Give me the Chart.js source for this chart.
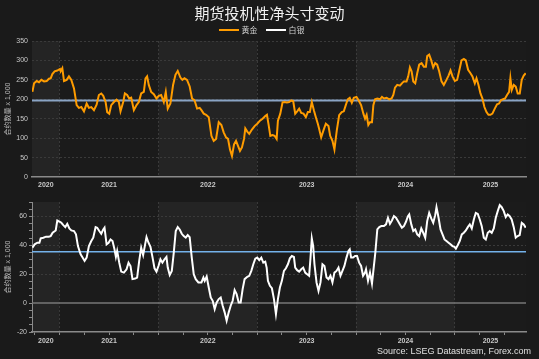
<!DOCTYPE html>
<html>
<head>
<meta charset="utf-8">
<script src="https://cdn.jsdelivr.net/npm/chart.js@4.4.1/dist/chart.umd.min.js"></script>
<style>
    body {
        margin: 0;
        background: #1a1a1a;
        width: 539px;
        height: 359px;
        overflow: hidden;
        position: relative;
        font-family: 'Liberation Sans', 'Noto Sans CJK SC', sans-serif;
    }
    .box { position: absolute; left: 0; width: 539px; }
    #title {
        position: absolute; top: 2px; left: 0; width: 539px; text-align: center;
        color: #f0f0f0; font-size: 15px; font-family: 'Noto Sans CJK SC', sans-serif;
        z-index: 2;
    }
    #legend {
        position: absolute; top: 24px; left: 0; width: 523px; text-align: center;
        color: #cfcfcf; font-size: 8px; font-family: 'Noto Sans CJK SC', sans-serif;
        z-index: 2;
    }
    #legend span.item { display: inline-block; margin: 0 4px; }
    #legend span.swatch {
        display: inline-block; width: 20px; height: 2px; vertical-align: middle;
        margin-right: 3px; position: relative; top: -1px;
    }
    #source {
        position: absolute; right: 8px; top: 346px; color: #e0e0e0; font-size: 9px;
        z-index: 2;
    }
</style>
</head>
<body>
<div id="title">期货投机性净头寸变动</div>
<div id="legend"></div>
<div class="box" style="top:0;height:192px"><canvas id="goldChart"></canvas></div>
<div class="box" style="top:192px;height:167px"><canvas id="silverChart"></canvas></div>
<div id="source">Source: LSEG Datastream, Forex.com</div>

<script>
// weekly net speculative positions, contracts x 1,000 (x = decimal year)
const goldT = [2020.724,2020.741,2020.768,2020.791,2020.815,2020.842,2020.869,2020.892,2020.909,2020.926,2020.949,2020.976,2021.003,2021.010,2021.027,2021.044,2021.071,2021.094,2021.118,2021.145,2021.172,2021.195,2021.219,2021.246,2021.273,2021.296,2021.320,2021.347,2021.374,2021.397,2021.421,2021.441,2021.465,2021.481,2021.502,2021.522,2021.549,2021.576,2021.599,2021.616,2021.643,2021.660,2021.683,2021.704,2021.724,2021.751,2021.778,2021.801,2021.825,2021.852,2021.869,2021.885,2021.902,2021.926,2021.953,2021.980,2022.003,2022.027,2022.054,2022.074,2022.094,2022.121,2022.148,2022.172,2022.195,2022.222,2022.242,2022.263,2022.289,2022.316,2022.340,2022.364,2022.391,2022.417,2022.435,2022.458,2022.482,2022.509,2022.536,2022.559,2022.583,2022.610,2022.637,2022.660,2022.684,2022.704,2022.724,2022.744,2022.765,2022.785,2022.805,2022.825,2022.845,2022.866,2022.879,2022.899,2022.919,2022.946,2022.973,2023.000,2023.027,2023.054,2023.081,2023.098,2023.115,2023.132,2023.155,2023.175,2023.196,2023.209,2023.233,2023.256,2023.276,2023.300,2023.323,2023.344,2023.364,2023.384,2023.404,2023.424,2023.445,2023.468,2023.492,2023.512,2023.532,2023.552,2023.573,2023.593,2023.613,2023.626,2023.647,2023.670,2023.694,2023.721,2023.738,2023.761,2023.781,2023.805,2023.829,2023.855,2023.876,2023.896,2023.916,2023.936,2023.957,2023.977,2024.004,2024.024,2024.051,2024.074,2024.091,2024.107,2024.124,2024.141,2024.161,2024.175,2024.192,2024.215,2024.242,2024.262,2024.282,2024.309,2024.336,2024.360,2024.377,2024.394,2024.417,2024.444,2024.464,2024.484,2024.511,2024.528,2024.545,2024.562,2024.579,2024.599,2024.619,2024.639,2024.663,2024.686,2024.707,2024.720,2024.740,2024.761,2024.781,2024.801,2024.821,2024.841,2024.865,2024.888,2024.915,2024.936,2024.956,2024.976,2025.000,2025.023,2025.043,2025.067,2025.091,2025.111,2025.134,2025.158,2025.178,2025.202,2025.219,2025.239,2025.259,2025.279,2025.299,2025.320,2025.340,2025.360,2025.380,2025.404,2025.427,2025.447,2025.468,2025.488,2025.508,2025.528,2025.549,2025.562,2025.576,2025.596,2025.616,2025.636,2025.657,2025.677,2025.697,2025.717];
const gold = [219,241,247,244,250,246,247,253,254,265,272,274,278,272,280,247,250,259,250,228,185,178,180,169,189,178,180,172,186,211,215,209,193,167,163,185,193,199,193,169,193,215,211,202,204,172,185,193,215,219,254,259,237,219,213,202,209,211,193,219,176,189,237,263,273,256,250,254,250,233,202,198,176,178,172,163,160,154,106,93,98,141,134,115,102,98,71,54,84,93,80,67,76,98,125,117,111,122,131,137,145,150,157,160,134,106,108,106,98,145,163,192,193,192,193,197,195,163,169,176,165,163,154,167,167,193,172,154,137,124,102,120,137,131,106,93,71,120,159,167,169,185,200,204,191,204,206,198,185,163,150,160,134,141,141,185,200,202,200,206,202,204,200,202,211,230,237,235,241,246,246,259,282,272,246,241,267,289,293,284,284,311,315,300,282,293,289,272,246,237,250,261,274,259,247,250,272,300,304,300,276,267,259,241,254,237,215,202,180,167,160,160,163,176,187,189,198,200,202,211,219,254,224,237,233,215,215,250,261,267];

const silverT = [2020.724,2020.747,2020.774,2020.795,2020.808,2020.835,2020.862,2020.889,2020.909,2020.929,2020.960,2020.976,2021.003,2021.017,2021.037,2021.057,2021.077,2021.098,2021.118,2021.145,2021.165,2021.185,2021.212,2021.232,2021.252,2021.273,2021.296,2021.320,2021.340,2021.364,2021.380,2021.401,2021.421,2021.441,2021.454,2021.475,2021.495,2021.515,2021.535,2021.555,2021.569,2021.582,2021.603,2021.623,2021.650,2021.677,2021.697,2021.717,2021.737,2021.764,2021.784,2021.805,2021.825,2021.845,2021.865,2021.879,2021.899,2021.919,2021.939,2021.960,2021.980,2022.000,2022.020,2022.040,2022.061,2022.081,2022.094,2022.114,2022.135,2022.155,2022.175,2022.195,2022.215,2022.236,2022.256,2022.276,2022.296,2022.316,2022.337,2022.357,2022.377,2022.404,2022.424,2022.435,2022.455,2022.468,2022.488,2022.509,2022.529,2022.549,2022.569,2022.589,2022.610,2022.630,2022.650,2022.670,2022.690,2022.711,2022.731,2022.751,2022.771,2022.791,2022.812,2022.832,2022.852,2022.872,2022.899,2022.919,2022.940,2022.960,2022.980,2023.000,2023.020,2023.041,2023.061,2023.081,2023.095,2023.108,2023.128,2023.148,2023.169,2023.189,2023.209,2023.229,2023.249,2023.270,2023.290,2023.310,2023.330,2023.350,2023.371,2023.384,2023.404,2023.424,2023.445,2023.465,2023.485,2023.505,2023.525,2023.539,2023.552,2023.566,2023.579,2023.600,2023.620,2023.640,2023.660,2023.680,2023.701,2023.721,2023.741,2023.761,2023.781,2023.802,2023.822,2023.842,2023.862,2023.882,2023.903,2023.923,2023.936,2023.950,2023.970,2023.990,2024.010,2024.031,2024.051,2024.071,2024.091,2024.101,2024.121,2024.141,2024.161,2024.175,2024.195,2024.215,2024.235,2024.256,2024.282,2024.303,2024.323,2024.343,2024.363,2024.383,2024.404,2024.424,2024.444,2024.464,2024.484,2024.505,2024.525,2024.538,2024.559,2024.579,2024.599,2024.619,2024.639,2024.660,2024.680,2024.700,2024.720,2024.740,2024.761,2024.781,2024.801,2024.814,2024.835,2024.855,2024.875,2024.895,2024.915,2024.936,2024.956,2024.976,2024.996,2025.010,2025.030,2025.050,2025.070,2025.091,2025.111,2025.131,2025.151,2025.171,2025.192,2025.212,2025.232,2025.252,2025.272,2025.293,2025.313,2025.333,2025.353,2025.373,2025.394,2025.414,2025.434,2025.454,2025.474,2025.495,2025.515,2025.535,2025.555,2025.575,2025.596,2025.616,2025.636,2025.656,2025.677,2025.697,2025.717];
const silver = [38.4,40.7,41.8,41.8,44.8,45.3,46.0,46.0,46.4,48.7,50.3,57.2,56.3,55.6,54.0,52.6,54.9,51.7,50.3,49.9,47.6,39.5,33.8,31.5,29.2,31.5,39.5,43.0,45.3,52.6,52.2,49.9,48.0,51.0,52.2,40.7,41.8,44.1,43.0,37.2,32.0,36.1,28.0,21.8,21.1,23.4,28.0,25.7,16.6,17.0,17.7,29.2,38.4,33.3,40.7,45.7,41.8,38.9,32.0,24.1,21.8,25.7,30.3,28.0,30.3,32.0,24.6,19.5,22.3,34.9,49.9,52.6,51.0,48.0,46.4,45.3,47.1,45.7,31.5,20.0,16.6,14.3,14.3,14.3,17.7,15.4,18.4,10.8,3.9,1.6,-4.1,0.5,2.8,3.9,-1.8,-6.4,-12.2,-6.4,-1.8,1.6,9.0,6.2,0.5,0.5,9.7,16.6,18.2,18.9,22.3,26.9,30.8,31.5,29.7,31.5,28.0,28.7,24.6,15.4,12.0,10.3,2.8,-7.6,2.8,10.8,15.4,22.3,24.1,26.9,31.0,32.6,32.0,24.6,22.8,21.8,23.4,24.6,21.1,20.0,18.9,31.5,44.8,39.5,26.9,14.3,8.5,14.3,26.9,25.7,17.7,16.6,18.9,14.3,21.1,22.3,24.6,18.9,22.3,25.7,31.5,36.1,37.2,31.5,31.5,32.6,32.6,28.0,25.7,18.9,21.1,23.4,15.4,21.1,13.6,22.3,34.9,51.0,52.6,53.3,53.3,54.5,59.1,54.9,57.2,60.2,59.1,56.8,54.5,52.2,53.3,56.3,60.2,61.4,54.5,49.9,51.0,47.6,46.4,51.7,48.7,45.3,56.8,62.5,58.6,55.6,60.9,66.4,59.1,51.0,47.6,44.1,43.0,41.8,40.7,39.5,38.9,37.7,40.2,43.0,47.6,48.7,50.3,52.6,54.5,51.7,57.9,62.5,61.8,57.9,53.3,45.3,44.1,48.7,49.9,48.7,51.7,59.1,63.7,67.8,66.4,63.7,59.5,61.4,60.2,57.9,52.6,45.3,46.4,47.1,55.6,54.5,52.2];

// reference levels (blue lines)
const goldRef = 197;
const silverRef = 35.5;

// x axis
const xMin = 2020.72;
const xMax = 2025.72;
const yearTicks = [2020.86, 2021.5, 2022.5, 2023.5, 2024.5, 2025.36];
const yearLabels = ['2020', '2021', '2022', '2023', '2024', '2025'];
const yearLines = [2021, 2022, 2023, 2024, 2025];

const seriesNames = ['黄金', '白银'];
const seriesColors = ['#ff9c00', '#ffffff'];

const gridColor = '#3a3a3a';
const labelColor = '#c8c8c8';

Chart.defaults.font.family = "'Liberation Sans', 'Noto Sans CJK SC', sans-serif";
Chart.defaults.font.size = 7;
Chart.defaults.color = labelColor;

// legend
const legend = document.getElementById('legend');
seriesNames.forEach((name, i) => {
    legend.innerHTML += `<span class="item"><span class="swatch" style="background:${seriesColors[i]}"></span>${name}</span>`;
});

// alternating shaded year bands behind the plot
const bandPlugin = {
    id: 'bands',
    beforeDraw(chart) {
        const { ctx, chartArea, scales } = chart;
        const edges = [xMin, ...yearLines, xMax];
        ctx.save();
        for (let i = 0; i < edges.length - 1; i++) {
            const x1 = scales.x.getPixelForValue(edges[i]);
            const x2 = scales.x.getPixelForValue(edges[i + 1]);
            ctx.fillStyle = i % 2 === 0 ? '#242424' : '#1b1b1b';
            ctx.fillRect(x1, chartArea.top, x2 - x1, chartArea.bottom - chartArea.top);
        }
        ctx.restore();
    }
};

function toPoints(t, v) {
    return t.map((x, i) => ({ x: x, y: v[i] }));
}

function flatLine(y) {
    return [{ x: xMin, y: y }, { x: xMax, y: y }];
}

function isNear(v, list) {
    return list.some(t => Math.abs(t - v) < 1e-6);
}

function xScale(withTicks) {
    return {
        type: 'linear',
        min: xMin,
        max: xMax,
        afterBuildTicks(scale) {
            let vals = yearLines.concat(yearTicks);
            if (withTicks) {
                for (let q = 2020.75; q <= 2025.5 + 1e-6; q += 0.25) vals.push(Math.round(q * 100) / 100);
            }
            vals = Array.from(new Set(vals)).sort((a, b) => a - b);
            scale.ticks = vals.map(v => ({ value: v }));
        },
        afterFit(scale) { scale.height = 15; },
        ticks: {
            autoSkip: false,
            maxRotation: 0,
            padding: withTicks ? 2 : 4,
            color: labelColor,
            font: { size: 7, weight: 'bold' },
            callback(v) {
                const i = yearTicks.findIndex(t => Math.abs(t - v) < 1e-6);
                return i >= 0 ? yearLabels[i] : '';
            }
        },
        grid: {
            drawTicks: withTicks,
            tickLength: 3,
            color: ctx => isNear(ctx.tick.value, yearLines) ? gridColor : 'transparent',
            tickColor: ctx => isNear(ctx.tick.value, [2020.86, 2025.36]) ? 'transparent' : '#8a8a8a'
        },
        border: { display: true, color: '#8a8a8a', width: 1.5, dash: [2, 2] }
    };
}

function yTitle() {
    return { display: true, text: '合约数量 x 1,000', color: '#bbbbbb', font: { size: 7 }, padding: { top: 4, bottom: 0 } };
}

// top panel: gold
new Chart(document.getElementById('goldChart'), {
    type: 'line',
    data: {
        datasets: [
            { data: toPoints(goldT, gold), borderColor: seriesColors[0], borderWidth: 2, pointRadius: 0, order: 1 },
            { data: flatLine(goldRef), borderColor: '#8aa4c4', borderWidth: 2, pointRadius: 0, order: 2 }
        ]
    },
    options: {
        responsive: true,
        maintainAspectRatio: false,
        animation: false,
        layout: { padding: { top: 41, right: 13, left: 0, bottom: 0 } },
        plugins: { legend: { display: false }, tooltip: { enabled: false } },
        scales: {
            x: xScale(false),
            y: {
                min: 0,
                max: 350,
                afterFit(scale) { scale.width = 32; },
                ticks: { stepSize: 50, padding: 4, color: labelColor },
                grid: {
                    drawTicks: false,
                    color: ctx => ctx.tick.value === 0 ? 'transparent' : gridColor
                },
                border: { display: false, dash: [2, 2] },
                title: yTitle()
            }
        }
    },
    plugins: [bandPlugin]
});

// bottom panel: silver
new Chart(document.getElementById('silverChart'), {
    type: 'line',
    data: {
        datasets: [
            { data: toPoints(silverT, silver), borderColor: seriesColors[1], borderWidth: 2, pointRadius: 0, order: 1 },
            { data: flatLine(silverRef), borderColor: '#74b2ea', borderWidth: 1.5, pointRadius: 0, order: 2 },
            { data: flatLine(0), borderColor: '#777777', borderWidth: 1.5, pointRadius: 0, order: 3 }
        ]
    },
    options: {
        responsive: true,
        maintainAspectRatio: false,
        animation: false,
        layout: { padding: { top: 10, right: 13, left: 0, bottom: 12 } },
        plugins: { legend: { display: false }, tooltip: { enabled: false } },
        scales: {
            x: xScale(true),
            y: {
                min: -20,
                max: 70,
                afterFit(scale) { scale.width = 32; },
                ticks: {
                    stepSize: 5,
                    padding: 2,
                    color: labelColor,
                    autoSkip: false,
                    callback: v => v % 20 === 0 ? v : ''
                },
                grid: {
                    tickLength: 3,
                    color: ctx => (ctx.tick.value % 20 === 0 && ctx.tick.value !== 0 && ctx.tick.value !== -20) ? gridColor : 'transparent',
                    tickColor: '#8a8a8a'
                },
                border: { display: true, color: '#8a8a8a', width: 1, dash: [2, 2] },
                title: yTitle()
            }
        }
    },
    plugins: [bandPlugin]
});
</script>
</body>
</html>
